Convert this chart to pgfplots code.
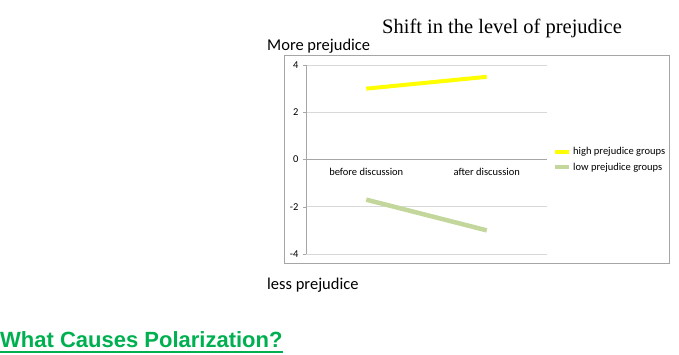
\documentclass[border=0pt]{standalone}
\usepackage{pgfplots}
\pgfplotsset{compat=1.18}
\usepackage{fontspec}
\setmainfont{Carlito}
\newfontfamily\titlefont{Liberation Serif}
\newfontfamily\headfont{Liberation Sans}
\definecolor{hiyellow}{HTML}{FFFF00}
\definecolor{logreen}{HTML}{C3D69B}
\definecolor{headgreen}{HTML}{00B050}
\definecolor{gridgray}{HTML}{D9D9D9}
\definecolor{axgray}{HTML}{A6A6A6}
\begin{document}
\begin{tikzpicture}
\useasboundingbox (0,0) rectangle (679pt,355pt);
% chart frame
\draw[axgray, line width=0.8pt] (284pt,92pt) rectangle (669pt,300pt);
\begin{axis}[
  scale only axis,
  width=241pt, height=189pt,
  at={(306pt,101pt)}, anchor=south west,
  xmin=-0.5, xmax=1.5, ymin=-4, ymax=4,
  axis x line=middle, axis y line=left,
  axis line style={axgray, -},
  xtick={0,1},
  xticklabels={before discussion, after discussion},
  x tick label style={font=\fontsize{10.5}{12}\selectfont, yshift=-2pt},
  major x tick style={draw=none},
  extra x ticks={-0.5,0.5,1.5},
  extra x tick labels={},
  extra x tick style={major tick length=6pt, tick style={axgray}, grid=none},
  ytick={-4,-2,0,2,4},
  y tick label style={font=\fontsize{10.5}{12}\selectfont, xshift=-1pt},
  /pgf/number format/assume math mode=true,
  ymajorgrids,
  grid style={gridgray, line width=0.6pt},
  major y tick style={axgray},
  tick align=outside,
  major tick length=3pt,
  clip=false,
  legend style={at={(1.025,0.5)}, anchor=west, draw=none, fill=none,
    font=\fontsize{10.5}{12}\selectfont, row sep=2.5pt,
    inner sep=0pt, cells={anchor=west}},
  legend image code/.code={\draw[#1, line width=4pt] (0pt,0pt) -- (14pt,0pt);},
]
\addplot[hiyellow, line width=4pt] coordinates {(0,3.0) (1,3.5)};
\addlegendentry{high prejudice groups}
\addplot[logreen, line width=4.5pt] coordinates {(0,-1.7) (1,-3.0)};
\addlegendentry{low prejudice groups}
\end{axis}
\node[font=\titlefont\fontsize{20.5}{22}\selectfont] at (502pt,327pt) {Shift in the level of prejudice};
\node[anchor=west, inner sep=0pt, font=\fontsize{16.5}{18}\selectfont] at (267pt,309pt) {More prejudice};
\node[anchor=west, inner sep=0pt, font=\fontsize{16.5}{18}\selectfont] at (267pt,70pt) {less prejudice};
\node[anchor=base west, inner sep=0pt, text=headgreen, font=\headfont\bfseries\fontsize{22}{24}\selectfont] (hd) at (0pt,7pt) {What Causes Polarization?};
\draw[headgreen, line width=1.8pt] (0pt,3pt) -- (hd.east |- 0,3pt);
\end{tikzpicture}
\end{document}
